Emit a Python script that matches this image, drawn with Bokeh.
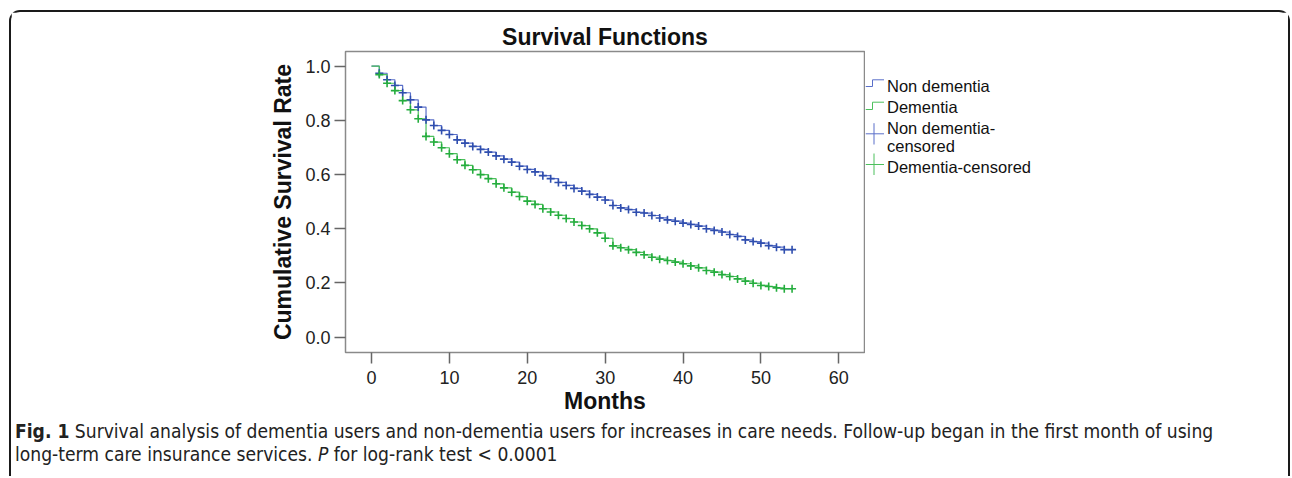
from bokeh.plotting import figure
from bokeh.models import Range1d, FixedTicker, Div, NumeralTickFormatter, Title, ColumnDataSource
from bokeh.layouts import column, row
from bokeh.embed import file_html
from bokeh.resources import INLINE
from bokeh.core.properties import value

# ---------------- data ----------------
months = list(range(0, 55))
non_dementia = [1.0, 0.974, 0.950, 0.929, 0.902, 0.876, 0.849, 0.802, 0.781, 0.763,
                0.748, 0.728, 0.716, 0.704, 0.693, 0.683, 0.669, 0.657, 0.646, 0.631,
                0.619, 0.610, 0.596, 0.585, 0.571, 0.560, 0.549, 0.539, 0.527, 0.517,
                0.506, 0.486, 0.477, 0.471, 0.461, 0.458, 0.449, 0.440, 0.433, 0.428,
                0.421, 0.416, 0.410, 0.400, 0.394, 0.388, 0.379, 0.372, 0.359, 0.353,
                0.347, 0.338, 0.332, 0.323, 0.323]
dementia = [1.0, 0.969, 0.937, 0.910, 0.873, 0.839, 0.806, 0.741, 0.720, 0.699,
            0.677, 0.655, 0.634, 0.618, 0.600, 0.585, 0.566, 0.551, 0.535, 0.519,
            0.502, 0.490, 0.474, 0.462, 0.450, 0.438, 0.425, 0.412, 0.400, 0.385,
            0.365, 0.337, 0.330, 0.323, 0.313, 0.304, 0.295, 0.288, 0.283, 0.277,
            0.271, 0.263, 0.256, 0.246, 0.240, 0.231, 0.224, 0.215, 0.207, 0.199,
            0.191, 0.187, 0.182, 0.179, 0.179]
censor_months = months[1:]
x_ticks = [0, 10, 20, 30, 40, 50, 60]
y_ticks = [0.0, 0.2, 0.4, 0.6, 0.8, 1.0]
legend_labels = ["Non dementia", "Dementia", "Non dementia-", "censored", "Dementia-censored"]
title_text = "Survival Functions"
x_label = "Months"
y_label = "Cumulative Survival Rate"

BLUE_LINE = "#5a6fc9"
BLUE_MARK = "#2f4eae"
GREEN_LINE = "#4cc05c"
GREEN_MARK = "#25ad3e"
FONT = "Liberation Sans"

# ---------------- geometry (page pixels) ----------------
OX, OY = 11, 12                     # content origin inside the rounded frame
FL, FR, FT, FB = 345, 864, 51, 352  # plot frame edges
FIG_H = 408
MAIN_W = FR + 1 - OX
LEG_W = 1288 - (FR + 1)
XMIN, XMAX = -3.34, 63.30
YMIN, YMAX = -0.0565, 1.0542

p = figure(width=MAIN_W, height=FIG_H, output_backend="svg", toolbar_location=None,
           x_range=Range1d(XMIN, XMAX), y_range=Range1d(YMIN, YMAX),
           min_border_left=FL - OX, min_border_right=1,
           min_border_top=FT - OY, min_border_bottom=FIG_H - (FB - OY))
p.background_fill_color = "white"
p.border_fill_color = "white"
p.outline_line_color = "#8a8a8a"
p.outline_line_width = 1.5
p.xgrid.visible = False
p.ygrid.visible = False

p.title = Title(text=title_text, align="center", text_font=FONT, text_font_size="23px",
                text_font_style="bold", text_color="#111111", standoff=3, offset=3)

for ax in (p.xaxis[0], p.yaxis[0]):
    ax.axis_line_color = None
    ax.major_tick_line_color = "#666666"
    ax.major_tick_line_width = 1.5
    ax.major_tick_out = 11
    ax.major_tick_in = 0
    ax.minor_tick_line_color = None
    ax.major_label_text_font = FONT
    ax.major_label_text_font_size = "18px"
    ax.major_label_text_color = "#222222"
    ax.axis_label_text_font = FONT
    ax.axis_label_text_font_size = "23px"
    ax.axis_label_text_font_style = "bold"
    ax.axis_label_text_color = "#111111"

p.xaxis.ticker = FixedTicker(ticks=x_ticks)
p.yaxis.ticker = FixedTicker(ticks=y_ticks)
p.yaxis.formatter = NumeralTickFormatter(format="0.0")
p.xaxis.axis_label = x_label
p.yaxis.axis_label = y_label
p.xaxis.major_label_standoff = 7
p.yaxis.major_label_standoff = 4
p.xaxis.axis_label_standoff = 1
p.yaxis.axis_label_standoff = 6

# curves
p.step(months, non_dementia, mode="after", line_color=BLUE_LINE, line_width=1.2)
p.step(months, dementia, mode="after", line_color=GREEN_LINE, line_width=1.2)
p.scatter(censor_months, non_dementia[1:], marker="cross", size=8,
          line_color=BLUE_MARK, line_width=1.6)
p.scatter(censor_months, dementia[1:], marker="cross", size=8,
          line_color=GREEN_MARK, line_width=1.6)

# ---------------- legend panel (page-pixel coordinates) ----------------
leg = figure(width=LEG_W, height=FIG_H, output_backend="svg", toolbar_location=None,
             x_range=Range1d(FR + 1, 1288), y_range=Range1d(FB, FT),
             x_axis_type=None, y_axis_type=None,
             min_border_left=0, min_border_right=0,
             min_border_top=FT - OY, min_border_bottom=FIG_H - (FB - OY))
leg.outline_line_color = None
leg.xgrid.visible = False
leg.ygrid.visible = False
leg.background_fill_color = "white"
leg.border_fill_color = "white"

icon_x0, icon_x1, icon_x2 = 865, 872, 883.5
seg_x0, seg_y0, seg_x1, seg_y1, seg_c = [], [], [], [], []
for (ylo, yhi, c) in [(86.0, 79.3, BLUE_LINE), (109.0, 101.7, GREEN_LINE)]:
    for a in [(icon_x0, ylo, icon_x1, ylo), (icon_x1, ylo, icon_x1, yhi), (icon_x1, yhi, icon_x2, yhi)]:
        seg_x0.append(a[0]); seg_y0.append(a[1]); seg_x1.append(a[2]); seg_y1.append(a[3]); seg_c.append(c)
for (yc, ya, yb, c) in [(133.3, 122.7, 144.0, BLUE_LINE), (164.0, 153.0, 174.5, GREEN_LINE)]:
    for a in [(icon_x0, yc, icon_x2, yc), (873.5, ya, 873.5, yb)]:
        seg_x0.append(a[0]); seg_y0.append(a[1]); seg_x1.append(a[2]); seg_y1.append(a[3]); seg_c.append(c)
leg.segment(x0="x0", y0="y0", x1="x1", y1="y1", line_color="c", line_width=1,
            source=ColumnDataSource(dict(x0=seg_x0, y0=seg_y0, x1=seg_x1, y1=seg_y1, c=seg_c)))

leg.text(x=[886.5] * len(legend_labels), y=[85.3, 106.2, 127.6, 145.3, 166.3], text=legend_labels,
         text_baseline="middle", text_font=value(FONT), text_font_size=value("16.5px"),
         text_color="#111111")

# ---------------- caption ----------------
caption_html = (
    '<div style="font-family: \'DejaVu Sans Condensed\', \'Liberation Sans\', sans-serif;'
    ' font-size: 19.1px; line-height: 23px; color: #222; white-space: nowrap; padding-left: 4px; padding-top: 0px;">'
    '<b>Fig. 1</b> Survival analysis of dementia users and non-dementia users for increases in care needs. '
    'Follow-up began in the first month of using<br>'
    'long-term care insurance services. <i>P</i> for log-rank test &lt; 0.0001</div>'
)
cap = Div(text=caption_html, width=MAIN_W + LEG_W, height=56, margin=(0, 0, 0, 0))

layout = column(row(p, leg, spacing=0), cap, spacing=0, margin=(10, 0, 0, 9),
                styles={"border": "2px solid #1a1a1a", "border-bottom": "none",
                        "border-radius": "11px 11px 0 0"})

open("out.html", "w").write(file_html(layout, INLINE))
